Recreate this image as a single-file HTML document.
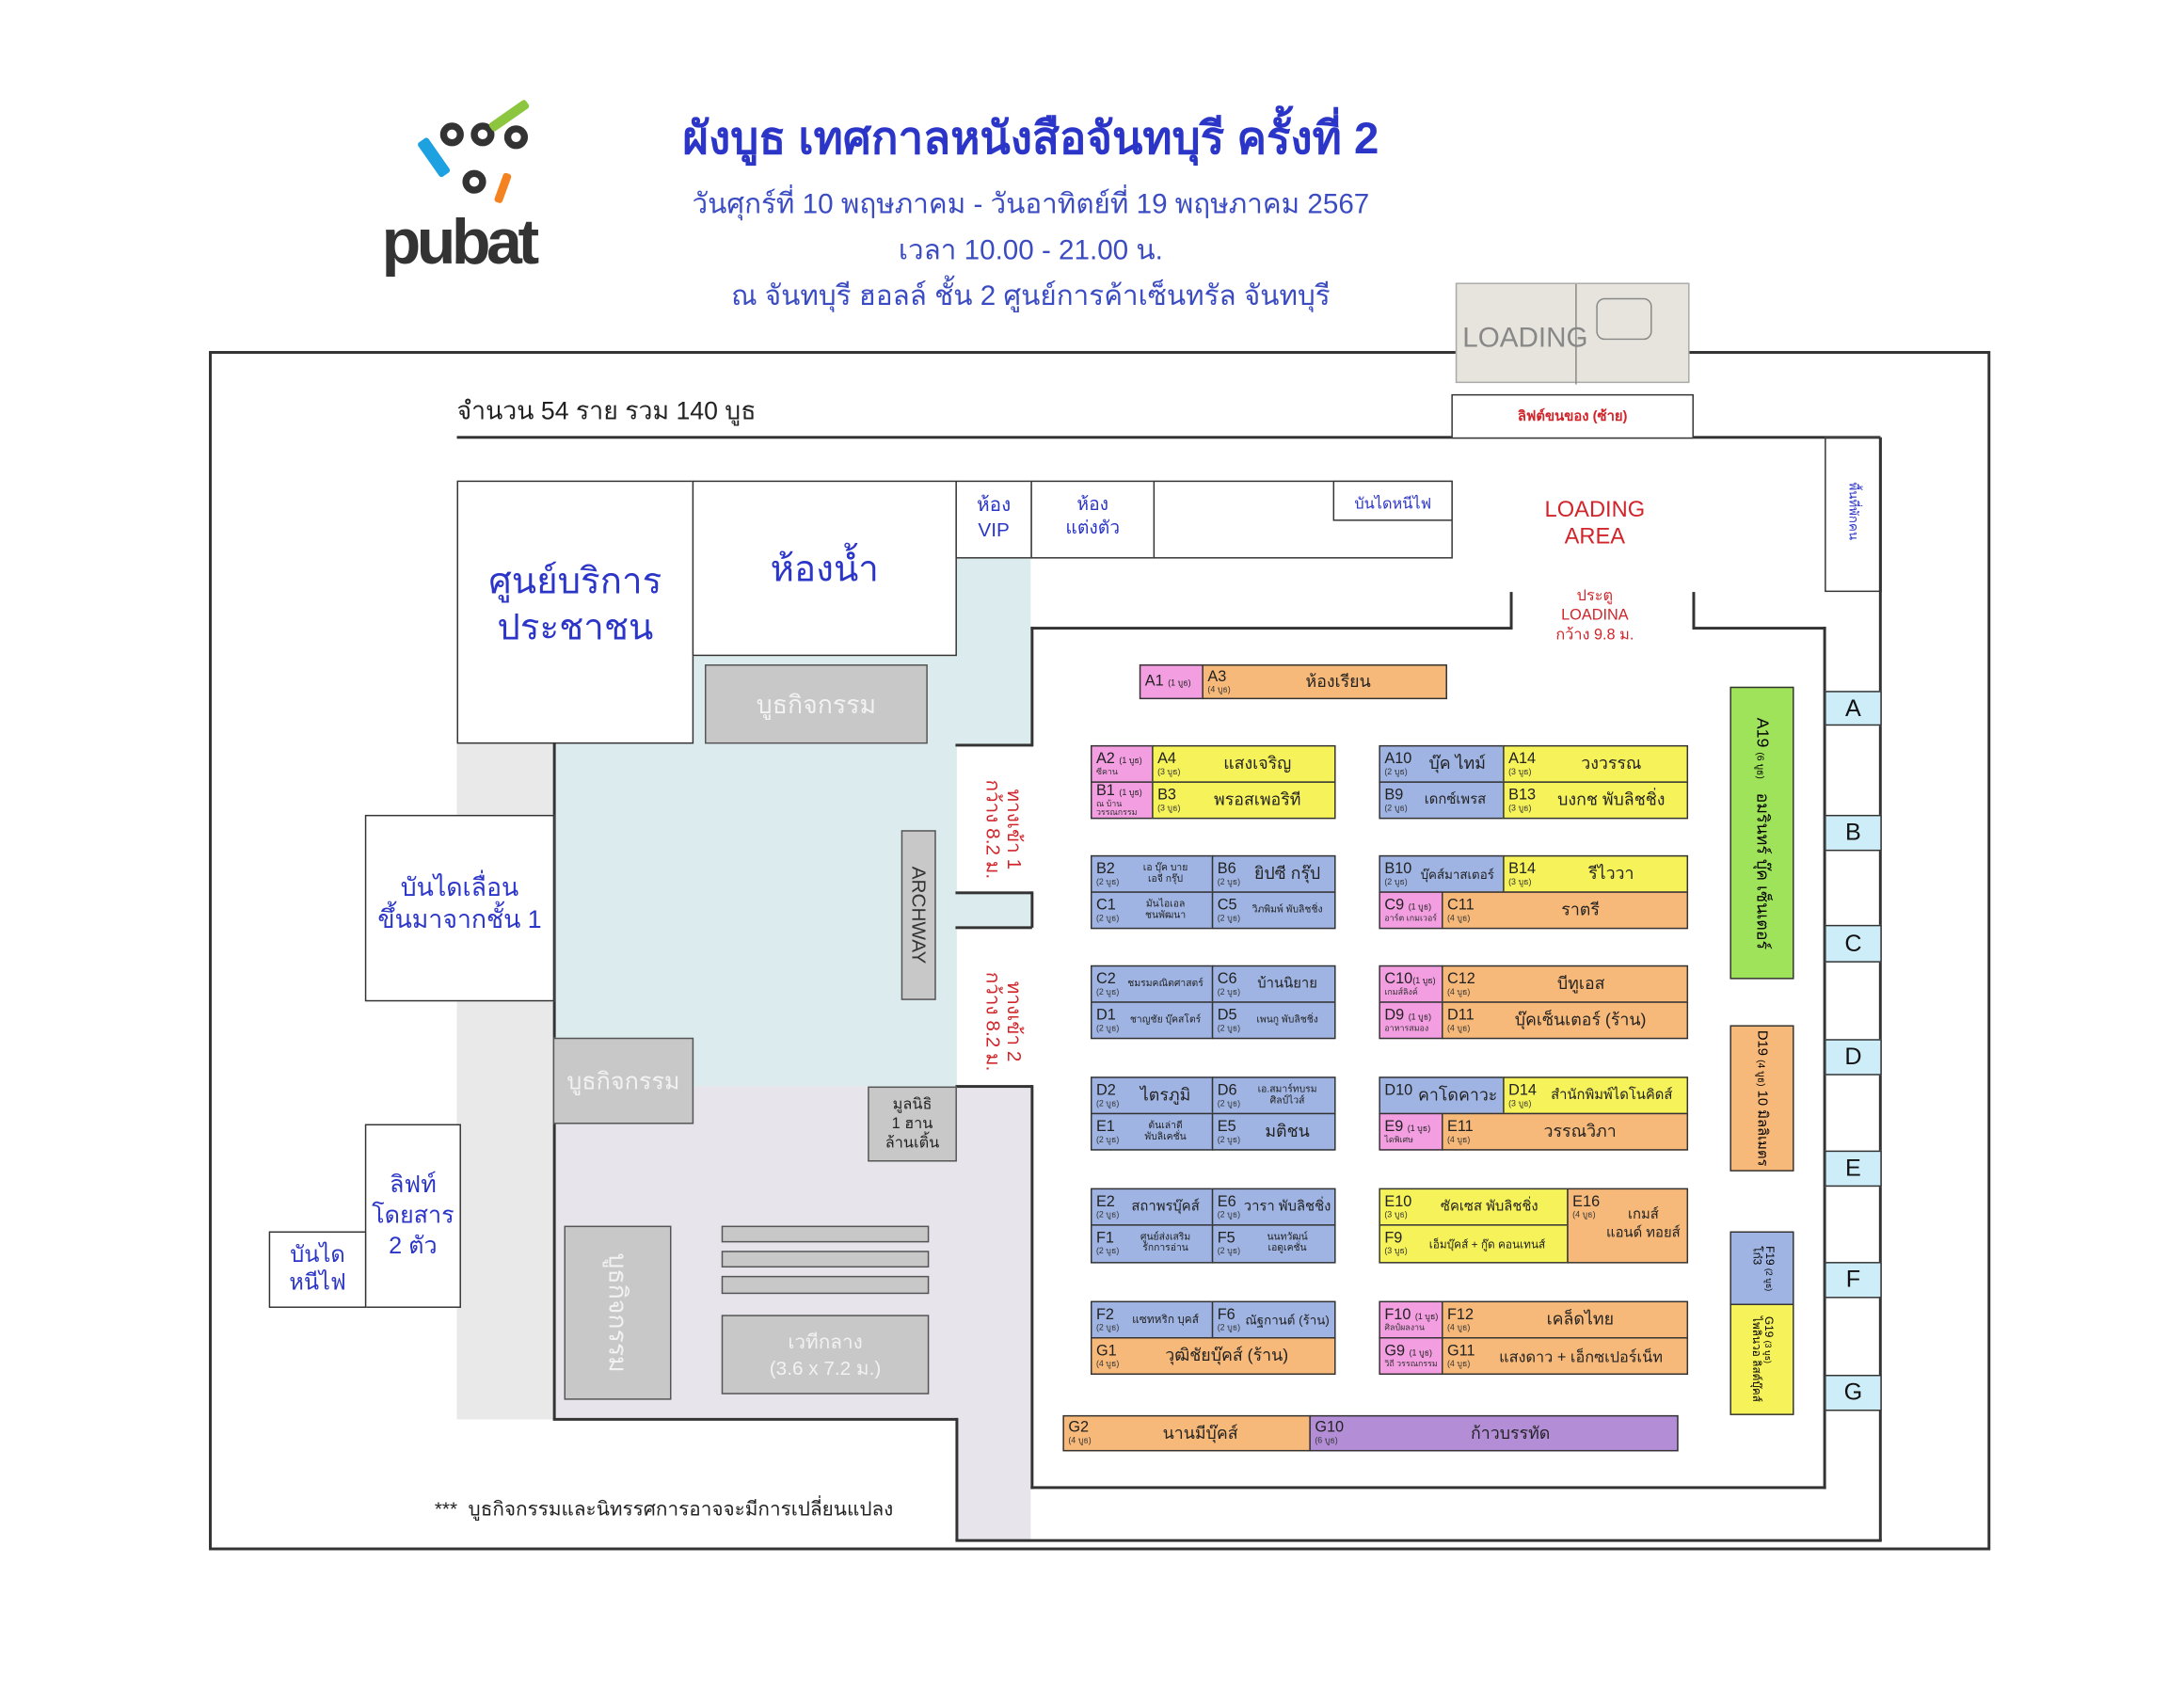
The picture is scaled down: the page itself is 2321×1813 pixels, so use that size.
<!DOCTYPE html>
<html><head><meta charset="utf-8">
<style>
html,body{margin:0;padding:0;background:#fff;}
body{width:2321px;height:1813px;overflow:hidden;position:relative;font-family:"Liberation Sans","Noto Sans CJK SC","WenQuanYi Zen Hei",sans-serif;}
#w{position:absolute;left:0;top:0;width:1568px;height:1225px;transform:scale(1.48023);transform-origin:0 0;}
.a{position:absolute;box-sizing:border-box;}
.bx{position:absolute;box-sizing:border-box;border:1.5px solid #333;background:#fff;}
.h{position:absolute;height:0;border-top:2px solid #333;}
.v{position:absolute;width:0;border-left:2px solid #333;}
.c{position:absolute;box-sizing:border-box;border:1.2px solid #333;display:flex;align-items:center;overflow:hidden;}
.c .k{padding-left:3px;line-height:1;width:auto;}
.c .k i{font-style:normal;font-size:11px;display:block;color:#222;}
.c .k s{text-decoration:none;font-size:6px;display:block;color:#333;margin-top:1px;}
.c .n{flex:1;text-align:center;font-size:12px;color:#222;white-space:nowrap;}
.c .n.sm{font-size:7px;line-height:1.1;}
.B{background:#9fb4e3}.Y{background:#f6f25a}.O{background:#f7b979}.P{background:#f29ee0}.U{background:#b38ed6}.G{background:#9fe35a}
.g{position:absolute;box-sizing:border-box;border:1.5px solid #555;background:#c8c8c8;color:#f2f2f2;display:flex;align-items:center;justify-content:center;text-align:center;}
.blue{color:#2b35c8;}
.red{color:#d0262b;}
.lt{position:absolute;box-sizing:border-box;border:1.5px solid #333;background:#cdeef8;font-size:17px;display:flex;align-items:center;justify-content:center;color:#111;}
</style></head><body><div id="w">

<!-- logo -->
<div class="a" style="left:307px;top:98px;width:9px;height:30px;background:#1da1e0;transform:rotate(-35deg);border-radius:2px"></div>
<div class="a" style="left:316px;top:88px;width:17px;height:17px;border:5px solid #333;border-radius:50%"></div>
<div class="a" style="left:338px;top:88px;width:17px;height:17px;border:5px solid #333;border-radius:50%"></div>
<div class="a" style="left:362px;top:67px;width:7px;height:32px;background:#8cc63f;transform:rotate(55deg);border-radius:2px"></div>
<div class="a" style="left:362px;top:90px;width:17px;height:17px;border:5px solid #333;border-radius:50%"></div>
<div class="a" style="left:332px;top:122px;width:17px;height:17px;border:5px solid #333;border-radius:50%"></div>
<div class="a" style="left:358px;top:124px;width:6px;height:22px;background:#f58220;transform:rotate(20deg);border-radius:2px"></div>
<div class="a" style="left:274px;top:150px;font-size:46px;font-weight:900;color:#333;letter-spacing:-3px;line-height:1">pubat</div>

<!-- titles -->
<div class="a blue" style="left:440px;top:74px;width:600px;text-align:center;font-size:32px;font-weight:bold;">ผังบูธ เทศกาลหนังสือจันทบุรี ครั้งที่ 2</div>
<div class="a blue" style="left:440px;top:130px;width:600px;text-align:center;font-size:20px;color:#3b4cc2">วันศุกร์ที่ 10 พฤษภาคม - วันอาทิตย์ที่ 19 พฤษภาคม 2567</div>
<div class="a blue" style="left:440px;top:163px;width:600px;text-align:center;font-size:20px;color:#3b4cc2">เวลา 10.00 - 21.00 น.</div>
<div class="a blue" style="left:440px;top:196px;width:600px;text-align:center;font-size:20px;color:#3b4cc2">ณ จันทบุรี ฮอลล์ ชั้น 2 ศูนย์การค้าเซ็นทรัล จันทบุรี</div>

<!-- outer frame -->
<div class="a" style="left:150px;top:252px;width:1279px;height:861px;border:2px solid #333;"></div>
<!-- loading picture -->
<div class="a" style="left:1045px;top:203px;width:168px;height:72px;background:#e6e4dc;border:1px solid #aaa;">
 <div class="a" style="left:4px;top:28px;font-size:20px;color:#888;">LOADING</div>
 <div class="a" style="left:100px;top:10px;width:40px;height:30px;border:1.5px solid #888;border-radius:6px"></div>
 <div class="a" style="left:85px;top:0;width:0;height:72px;border-left:1px solid #888"></div>
</div>

<div class="a" style="left:328px;top:280px;font-size:18px;color:#222;">จำนวน 54 ราย รวม 140 บูธ</div>
<div class="h" style="left:328px;top:313px;width:1022px;"></div>
<div class="bx" style="left:1042px;top:283px;width:174px;height:32px;"><div class="a red" style="left:0;top:8px;width:100%;text-align:center;font-size:10px;font-weight:bold">ลิฟต์ขนของ (ซ้าย)</div></div>
<div class="bx" style="left:1310px;top:314px;width:41px;height:111px;"><div class="a blue" style="left:-40px;top:45px;width:120px;text-align:center;font-size:9px;transform:rotate(90deg)">พื้นที่พักคน</div></div>
<div class="v" style="left:1349px;top:314px;height:792px;"></div>

<!-- grey / blue / purple fills -->
<div class="a" style="left:328px;top:533px;width:70px;height:486px;background:#e9e9e9"></div>
<div class="a" style="left:397px;top:470px;width:290px;height:310px;background:#dcecee"></div>
<div class="a" style="left:686px;top:400px;width:54px;height:135px;background:#dcecee"></div>
<div class="a" style="left:686px;top:640px;width:54px;height:25px;background:#dcecee"></div>
<div class="a" style="left:397px;top:780px;width:290px;height:238px;background:#e8e4ec"></div>
<div class="a" style="left:686px;top:780px;width:54px;height:326px;background:#e8e4ec"></div>

<!-- rooms -->
<div class="bx" style="left:328px;top:345px;width:170px;height:189px;"><div class="a blue" style="left:0;top:55px;width:100%;text-align:center;font-size:26px;line-height:1.25">ศูนย์บริการ<br>ประชาชน</div></div>
<div class="bx" style="left:497px;top:345px;width:190px;height:126px;"><div class="a blue" style="left:0;top:42px;width:100%;text-align:center;font-size:26px">ห้องน้ำ</div></div>
<div class="bx" style="left:686px;top:345px;width:55px;height:56px;"><div class="a blue" style="left:0;top:8px;width:100%;text-align:center;font-size:14px;line-height:1.25">ห้อง<br>VIP</div></div>
<div class="bx" style="left:740px;top:345px;width:89px;height:56px;"><div class="a blue" style="left:0;top:8px;width:100%;text-align:center;font-size:13px;line-height:1.3">ห้อง<br>แต่งตัว</div></div>
<div class="bx" style="left:828px;top:345px;width:215px;height:56px;"></div>
<div class="bx" style="left:957px;top:345px;width:86px;height:29px;"><div class="a blue" style="left:0;top:6px;width:100%;text-align:center;font-size:11px">บันไดหนีไฟ</div></div>
<div class="a red" style="left:1085px;top:357px;width:120px;text-align:center;font-size:16px;line-height:1.2">LOADING<br>AREA</div>
<div class="a red" style="left:1085px;top:422px;width:120px;text-align:center;font-size:11px;line-height:1.25">ประตู<br>LOADINA<br>กว้าง 9.8 ม.</div>

<!-- hall walls -->
<div class="v" style="left:1084px;top:425px;height:26px;"></div>
<div class="v" style="left:1215px;top:425px;height:26px;"></div>
<div class="h" style="left:740px;top:450px;width:346px;"></div>
<div class="h" style="left:1215px;top:450px;width:96px;"></div>
<div class="v" style="left:1309px;top:450px;height:619px;"></div>
<div class="h" style="left:740px;top:1067px;width:571px;"></div>
<div class="v" style="left:740px;top:450px;height:86px;"></div>
<div class="h" style="left:686px;top:534px;width:55px;"></div>
<div class="h" style="left:686px;top:640px;width:55px;"></div>
<div class="v" style="left:740px;top:640px;height:26px;"></div>
<div class="h" style="left:686px;top:665px;width:55px;"></div>
<div class="h" style="left:686px;top:779px;width:55px;"></div>
<div class="v" style="left:740px;top:779px;height:290px;"></div>
<div class="v" style="left:397px;top:533px;height:486px;"></div>
<div class="h" style="left:397px;top:1018px;width:290px;"></div>
<div class="v" style="left:686px;top:1018px;height:88px;"></div>
<div class="h" style="left:686px;top:1105px;width:665px;"></div>

<div class="a red" style="left:680px;top:580px;width:80px;text-align:center;font-size:14px;line-height:1.1;transform:rotate(90deg)">ทางเข้า 1<br>กว้าง 8.2 ม.</div>
<div class="a red" style="left:680px;top:718px;width:80px;text-align:center;font-size:14px;line-height:1.1;transform:rotate(90deg)">ทางเข้า 2<br>กว้าง 8.2 ม.</div>

<!-- left boxes -->
<div class="bx" style="left:262px;top:585px;width:136px;height:134px;"><div class="a blue" style="left:0;top:40px;width:100%;text-align:center;font-size:18px;line-height:1.3">บันไดเลื่อน<br>ขึ้นมาจากชั้น 1</div></div>
<div class="bx" style="left:262px;top:807px;width:69px;height:132px;"><div class="a blue" style="left:0;top:32px;width:100%;text-align:center;font-size:17px;line-height:1.3">ลิฟท์<br>โดยสาร<br>2 ตัว</div></div>
<div class="bx" style="left:193px;top:884px;width:70px;height:55px;"><div class="a blue" style="left:0;top:7px;width:100%;text-align:center;font-size:16px;line-height:1.25">บันได<br>หนีไฟ</div></div>

<!-- grey activity -->
<div class="g" style="left:506px;top:477px;width:160px;height:57px;font-size:18px">บูธกิจกรรม</div>
<div class="g" style="left:397px;top:745px;width:101px;height:62px;font-size:17px">บูธกิจกรรม</div>
<div class="g" style="left:647px;top:596px;width:25px;height:122px;color:#333;"><div style="transform:rotate(90deg);font-size:14px;white-space:nowrap">ARCHWAY</div></div>
<div class="g" style="left:623px;top:780px;width:64px;height:54px;color:#222;font-size:11px;line-height:1.3">มูลนิธิ<br>1 ฮาน<br>ล้านเติ้น</div>
<div class="g" style="left:405px;top:880px;width:77px;height:125px;"><div style="transform:rotate(90deg);font-size:18px;white-space:nowrap">บูธกิจกรรม</div></div>
<div class="g" style="left:518px;top:880px;width:149px;height:12px;"></div>
<div class="g" style="left:518px;top:898px;width:149px;height:12px;"></div>
<div class="g" style="left:518px;top:916px;width:149px;height:13px;"></div>
<div class="g" style="left:518px;top:944px;width:149px;height:57px;font-size:14px;line-height:1.3">เวทีกลาง<br>(3.6 x 7.2 ม.)</div>

<div class="a" style="left:312px;top:1073px;font-size:14px;color:#222;">***&nbsp; บูธกิจกรรมและนิทรรศการอาจจะมีการเปลี่ยนแปลง</div>

<!-- booths -->
<div class="c P" style="left:818px;top:477px;width:46px;height:25px"><div class="k"><i>A1 <span style="font-size:6px">(1 บูธ)</span></i></div></div>
<div class="c O" style="left:863px;top:477px;width:176px;height:25px"><div class="k"><i>A3</i><s>(4 บูธ)</s></div><div class="n">ห้องเรียน</div></div>

<div class="c P" style="left:783px;top:535px;width:45px;height:27px"><div class="k"><i>A2 <span style="font-size:6px">(1 บูธ)</span></i><s>ซีคาน</s></div></div>
<div class="c Y" style="left:827px;top:535px;width:132px;height:27px"><div class="k"><i>A4</i><s>(3 บูธ)</s></div><div class="n">แสงเจริญ</div></div>
<div class="c P" style="left:783px;top:561px;width:45px;height:27px"><div class="k"><i>B1 <span style="font-size:6px">(1 บูธ)</span></i><s>ณ บ้านวรรณกรรม</s></div></div>
<div class="c Y" style="left:827px;top:561px;width:132px;height:27px"><div class="k"><i>B3</i><s>(3 บูธ)</s></div><div class="n">พรอสเพอริที</div></div>
<div class="c B" style="left:990px;top:535px;width:90px;height:27px"><div class="k"><i>A10</i><s>(2 บูธ)</s></div><div class="n">บุ๊ค ไทม์</div></div>
<div class="c Y" style="left:1079px;top:535px;width:133px;height:27px"><div class="k"><i>A14</i><s>(3 บูธ)</s></div><div class="n">วงวรรณ</div></div>
<div class="c B" style="left:990px;top:561px;width:90px;height:27px"><div class="k"><i>B9</i><s>(2 บูธ)</s></div><div class="n" style="font-size:10px">เดกซ์เพรส</div></div>
<div class="c Y" style="left:1079px;top:561px;width:133px;height:27px"><div class="k"><i>B13</i><s>(3 บูธ)</s></div><div class="n">บงกช พับลิชชิ่ง</div></div>

<div class="c B" style="left:783px;top:614px;width:88px;height:27px"><div class="k"><i>B2</i><s>(2 บูธ)</s></div><div class="n sm">เอ บุ๊ค บาย<br>เอจี กรุ๊ป</div></div>
<div class="c B" style="left:870px;top:614px;width:89px;height:27px"><div class="k"><i>B6</i><s>(2 บูธ)</s></div><div class="n">ยิปซี กรุ๊ป</div></div>
<div class="c B" style="left:783px;top:640px;width:88px;height:27px"><div class="k"><i>C1</i><s>(2 บูธ)</s></div><div class="n sm">มันไอเอล<br>ชนพัฒนา</div></div>
<div class="c B" style="left:870px;top:640px;width:89px;height:27px"><div class="k"><i>C5</i><s>(2 บูธ)</s></div><div class="n sm">วิภพิมพ์ พับลิชชิ่ง</div></div>
<div class="c B" style="left:990px;top:614px;width:90px;height:27px"><div class="k"><i>B10</i><s>(2 บูธ)</s></div><div class="n" style="font-size:9px">บุ๊คส์มาสเตอร์</div></div>
<div class="c Y" style="left:1079px;top:614px;width:133px;height:27px"><div class="k"><i>B14</i><s>(3 บูธ)</s></div><div class="n">รีไววา</div></div>
<div class="c P" style="left:990px;top:640px;width:46px;height:27px"><div class="k"><i>C9 <span style="font-size:6px">(1 บูธ)</span></i><s>อาร์ต เกมเวอร์</s></div></div>
<div class="c O" style="left:1035px;top:640px;width:177px;height:27px"><div class="k"><i>C11</i><s>(4 บูธ)</s></div><div class="n">ราตรี</div></div>

<div class="c B" style="left:783px;top:693px;width:88px;height:27px"><div class="k"><i>C2</i><s>(2 บูธ)</s></div><div class="n sm">ชมรมคณิตศาสตร์</div></div>
<div class="c B" style="left:870px;top:693px;width:89px;height:27px"><div class="k"><i>C6</i><s>(2 บูธ)</s></div><div class="n" style="font-size:10px">บ้านนิยาย</div></div>
<div class="c B" style="left:783px;top:719px;width:88px;height:27px"><div class="k"><i>D1</i><s>(2 บูธ)</s></div><div class="n sm">ชาญชัย บุ๊คสโตร์</div></div>
<div class="c B" style="left:870px;top:719px;width:89px;height:27px"><div class="k"><i>D5</i><s>(2 บูธ)</s></div><div class="n sm">เพนกู พับลิชชิ่ง</div></div>
<div class="c P" style="left:990px;top:693px;width:46px;height:27px"><div class="k"><i>C10<span style="font-size:6px">(1 บูธ)</span></i><s>เกมส์ลิงค์</s></div></div>
<div class="c O" style="left:1035px;top:693px;width:177px;height:27px"><div class="k"><i>C12</i><s>(4 บูธ)</s></div><div class="n">บีทูเอส</div></div>
<div class="c P" style="left:990px;top:719px;width:46px;height:27px"><div class="k"><i>D9 <span style="font-size:6px">(1 บูธ)</span></i><s>อาหารสมอง</s></div></div>
<div class="c O" style="left:1035px;top:719px;width:177px;height:27px"><div class="k"><i>D11</i><s>(4 บูธ)</s></div><div class="n">บุ๊คเซ็นเตอร์ (ร้าน)</div></div>

<div class="c B" style="left:783px;top:773px;width:88px;height:27px"><div class="k"><i>D2</i><s>(2 บูธ)</s></div><div class="n">ไตรภูมิ</div></div>
<div class="c B" style="left:870px;top:773px;width:89px;height:27px"><div class="k"><i>D6</i><s>(2 บูธ)</s></div><div class="n sm">เอ.สมาร์ทบรม<br>ศิลป์ไวส์</div></div>
<div class="c B" style="left:783px;top:799px;width:88px;height:27px"><div class="k"><i>E1</i><s>(2 บูธ)</s></div><div class="n sm">ต้นเล่าตี<br>พับลิเคชั่น</div></div>
<div class="c B" style="left:870px;top:799px;width:89px;height:27px"><div class="k"><i>E5</i><s>(2 บูธ)</s></div><div class="n">มติชน</div></div>
<div class="c B" style="left:990px;top:773px;width:90px;height:27px"><div class="k"><i>D10</i><s>&nbsp;</s></div><div class="n">คาโดคาวะ</div></div>
<div class="c Y" style="left:1079px;top:773px;width:133px;height:27px"><div class="k"><i>D14</i><s>(3 บูธ)</s></div><div class="n" style="font-size:10px">สำนักพิมพ์ไดโนคิดส์</div></div>
<div class="c P" style="left:990px;top:799px;width:46px;height:27px"><div class="k"><i>E9 <span style="font-size:6px">(1 บูธ)</span></i><s>ไดพิเศษ</s></div></div>
<div class="c O" style="left:1035px;top:799px;width:177px;height:27px"><div class="k"><i>E11</i><s>(4 บูธ)</s></div><div class="n">วรรณวิภา</div></div>

<div class="c B" style="left:783px;top:853px;width:88px;height:27px"><div class="k"><i>E2</i><s>(2 บูธ)</s></div><div class="n" style="font-size:10px">สถาพรบุ๊คส์</div></div>
<div class="c B" style="left:870px;top:853px;width:89px;height:27px"><div class="k"><i>E6</i><s>(2 บูธ)</s></div><div class="n" style="font-size:10px">วารา พับลิชชิ่ง</div></div>
<div class="c B" style="left:783px;top:879px;width:88px;height:28px"><div class="k"><i>F1</i><s>(2 บูธ)</s></div><div class="n sm">ศูนย์ส่งเสริม<br>รักการอ่าน</div></div>
<div class="c B" style="left:870px;top:879px;width:89px;height:28px"><div class="k"><i>F5</i><s>(2 บูธ)</s></div><div class="n sm">นนทวัฒน์<br>เอดูเคชั่น</div></div>
<div class="c Y" style="left:990px;top:853px;width:136px;height:27px"><div class="k"><i>E10</i><s>(3 บูธ)</s></div><div class="n" style="font-size:10px">ซัคเซส พับลิชชิ่ง</div></div>
<div class="c Y" style="left:990px;top:879px;width:136px;height:28px"><div class="k"><i>F9</i><s>(3 บูธ)</s></div><div class="n" style="font-size:8px">เอ็มบุ๊คส์ + กู๊ด คอนเทนส์</div></div>
<div class="c O" style="left:1125px;top:853px;width:87px;height:54px;align-items:flex-start"><div class="k" style="padding-top:4px"><i>E16</i><s>(4 บูธ)</s></div><div class="n" style="font-size:10px;padding-top:12px;line-height:1.3">เกมส์<br>แอนด์ ทอยส์</div></div>

<div class="c B" style="left:783px;top:934px;width:88px;height:27px"><div class="k"><i>F2</i><s>(2 บูธ)</s></div><div class="n" style="font-size:8px">แซทหริก บุคส์</div></div>
<div class="c B" style="left:870px;top:934px;width:89px;height:27px"><div class="k"><i>F6</i><s>(2 บูธ)</s></div><div class="n" style="font-size:9px">ณัฐกานต์ (ร้าน)</div></div>
<div class="c O" style="left:783px;top:960px;width:176px;height:27px"><div class="k"><i>G1</i><s>(4 บูธ)</s></div><div class="n">วุฒิชัยบุ๊คส์ (ร้าน)</div></div>
<div class="c P" style="left:990px;top:934px;width:46px;height:27px"><div class="k"><i>F10 <span style="font-size:6px">(1 บูธ)</span></i><s>ศิลป์ผลงาน</s></div></div>
<div class="c O" style="left:1035px;top:934px;width:177px;height:27px"><div class="k"><i>F12</i><s>(4 บูธ)</s></div><div class="n">เคล็ดไทย</div></div>
<div class="c P" style="left:990px;top:960px;width:46px;height:27px"><div class="k"><i>G9 <span style="font-size:6px">(1 บูธ)</span></i><s>วิถี วรรณกรรม</s></div></div>
<div class="c O" style="left:1035px;top:960px;width:177px;height:27px"><div class="k"><i>G11</i><s>(4 บูธ)</s></div><div class="n" style="font-size:11px">แสงดาว + เอ็กซเปอร์เน็ท</div></div>

<div class="c O" style="left:763px;top:1016px;width:178px;height:26px"><div class="k"><i>G2</i><s>(4 บูธ)</s></div><div class="n">นานมีบุ๊คส์</div></div>
<div class="c U" style="left:940px;top:1016px;width:265px;height:26px"><div class="k"><i>G10</i><s>(6 บูธ)</s></div><div class="n">ก้าวบรรทัด</div></div>

<!-- right vertical booths -->
<div class="c G" style="left:1242px;top:493px;width:46px;height:210px;justify-content:center"><div style="transform:rotate(90deg);white-space:nowrap;font-size:12px;">A19 <span style="font-size:7px">(6 บูธ)</span>&nbsp;&nbsp; อมรินทร์ บุ๊ค เซ็นเตอร์</div></div>
<div class="c O" style="left:1242px;top:736px;width:46px;height:105px;justify-content:center"><div style="transform:rotate(90deg);white-space:nowrap;font-size:10px;">D19 <span style="font-size:7px">(4 บูธ)</span> 10 มิลลิเมตร</div></div>
<div class="c B" style="left:1242px;top:884px;width:46px;height:53px;justify-content:center"><div style="transform:rotate(90deg);white-space:nowrap;font-size:8px;line-height:1.1">F19 <span style="font-size:6px">(2 บูธ)</span><br>โก๋3</div></div>
<div class="c Y" style="left:1242px;top:936px;width:46px;height:80px;justify-content:center"><div style="transform:rotate(90deg);white-space:nowrap;font-size:8px;line-height:1.1">G19 <span style="font-size:6px">(3 บูธ)</span><br>ไพลินวอ ลิสต์บุ๊คส์</div></div>

<!-- letters -->
<div class="lt" style="left:1310px;top:496px;width:41px;height:25px">A</div>
<div class="lt" style="left:1310px;top:585px;width:41px;height:26px">B</div>
<div class="lt" style="left:1310px;top:664px;width:41px;height:27px">C</div>
<div class="lt" style="left:1310px;top:746px;width:41px;height:26px">D</div>
<div class="lt" style="left:1310px;top:826px;width:41px;height:26px">E</div>
<div class="lt" style="left:1310px;top:906px;width:41px;height:26px">F</div>
<div class="lt" style="left:1310px;top:987px;width:41px;height:26px">G</div>

</div></body></html>
